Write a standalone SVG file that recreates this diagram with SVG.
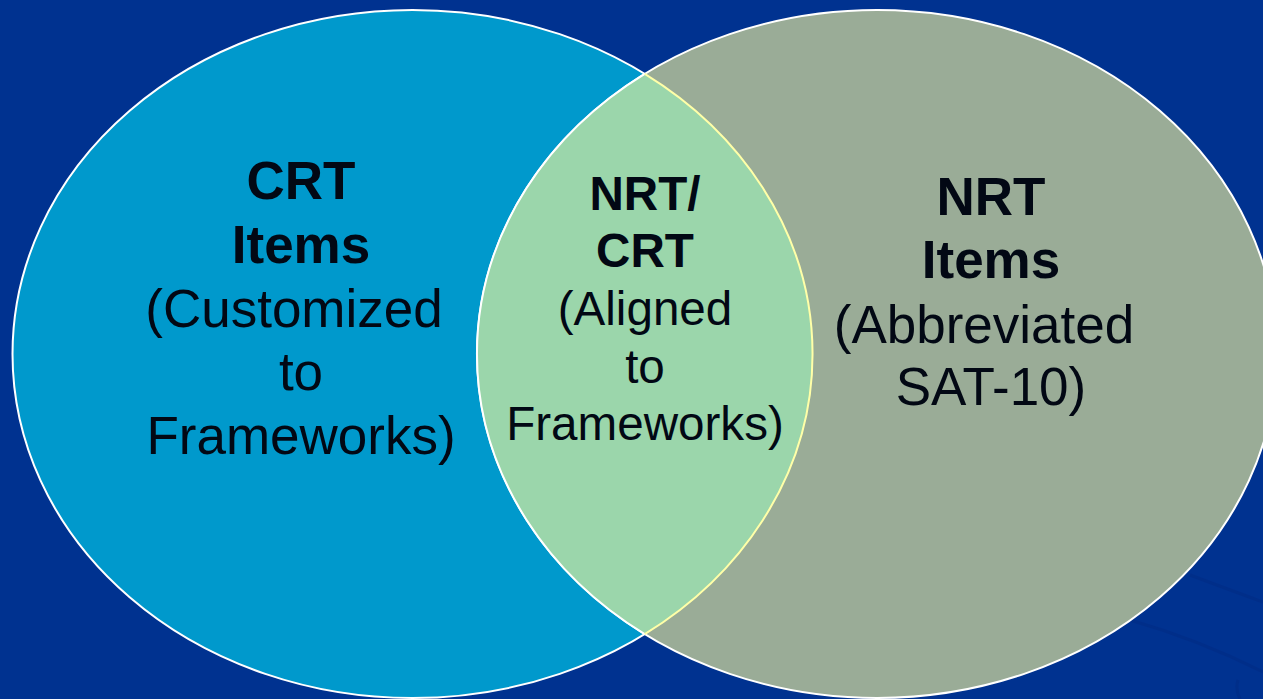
<svg xmlns="http://www.w3.org/2000/svg" width="1263" height="699" viewBox="0 0 1263 699">
<defs>
<style>
.t{font-family:"Liberation Sans",Arial,sans-serif;fill:#020814;text-anchor:middle}
.b{font-weight:bold}
.big{font-size:53px}
.mid{font-size:47.6px}
.edge{fill:none;stroke:#ffffff;stroke-width:2}
</style>
</defs>
<rect x="0" y="0" width="1263" height="699" fill="#003290"/>
<g id="background-swoosh" fill="none" stroke="#002c86" stroke-width="3" opacity="0.6">
<path d="M1130 620 Q1200 640 1263 672"/>
<path d="M1190 575 Q1230 590 1263 602"/>
<path d="M1238 680 Q1235 690 1240 699"/>
</g>
<g id="crt">
<ellipse cx="412.5" cy="354" rx="400" ry="344" class="edge" style="fill:#0099cc"/>
</g>
<g id="nrt">
<ellipse cx="877" cy="354" rx="400" ry="344" class="edge" style="fill:#9aac97"/>
</g>
<g id="overlap">
<path d="M644.75 73.9 A400 344 0 0 0 644.75 634.1 A400 344 0 0 0 644.75 73.9 Z" fill="#9bd6ab"/>
<path d="M644.75 73.9 A400 344 0 0 0 644.75 634.1" fill="none" stroke="#ffffff" stroke-width="2"/>
<path d="M644.75 634.1 A400 344 0 0 0 644.75 73.9" fill="none" stroke="#ffffa8" stroke-width="2"/>
</g>
<g id="crt-label" class="t big">
<text x="301" y="199" class="b">CRT</text>
<text x="301" y="263" class="b">Items</text>
<text x="294" y="327">(Customized</text>
<text x="301" y="390">to</text>
<text x="301" y="454">Frameworks)</text>
</g>
<g id="overlap-label" class="t mid">
<text x="645" y="210" class="b">NRT/</text>
<text x="645" y="267" class="b">CRT</text>
<text x="645" y="325">(Aligned</text>
<text x="645" y="383">to</text>
<text x="645" y="440">Frameworks)</text>
</g>
<g id="nrt-label" class="t big">
<text x="991" y="215" class="b">NRT</text>
<text x="991" y="278" class="b">Items</text>
<text x="984" y="343">(Abbreviated</text>
<text x="991" y="405">SAT-10)</text>
</g>
</svg>
